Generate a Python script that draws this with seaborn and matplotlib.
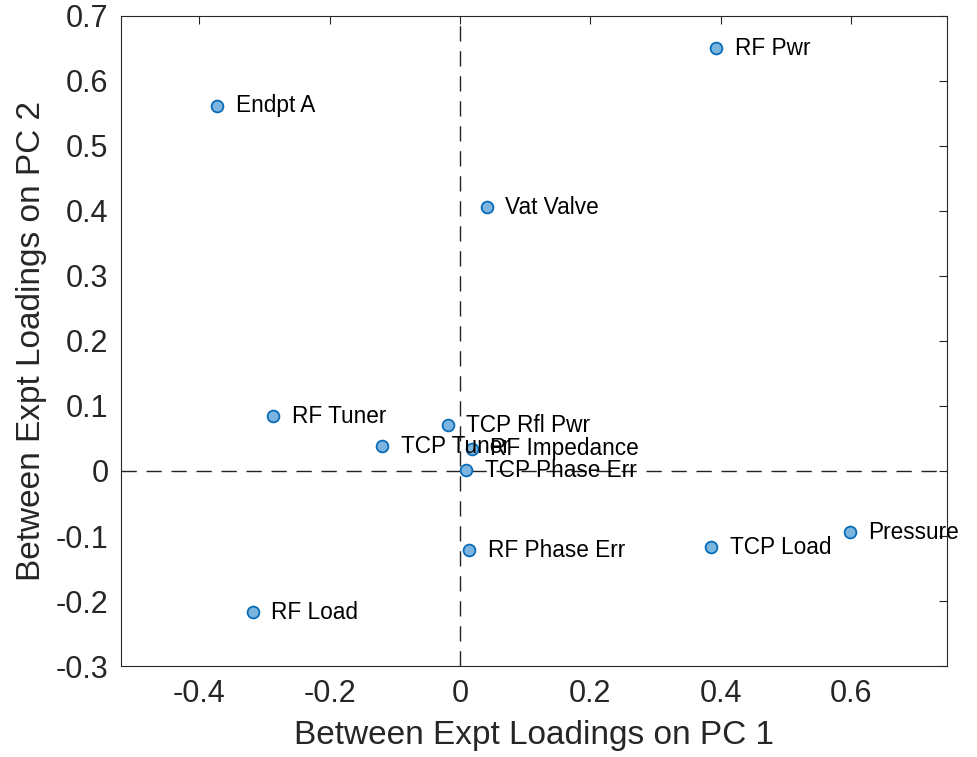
import matplotlib
matplotlib.use("Agg")
import matplotlib.pyplot as plt
import seaborn as sns
import pandas as pd

# Loadings of each process variable on the first two between-experiment PCs
variables = ["Endpt A", "RF Pwr", "Vat Valve", "RF Tuner", "TCP Rfl Pwr",
             "TCP Tuner", "RF Impedance", "TCP Phase Err", "RF Phase Err",
             "TCP Load", "Pressure", "RF Load"]
pc1 = [-0.372, 0.393, 0.041, -0.287, -0.019, -0.120, 0.018, 0.009, 0.014,
       0.385, 0.598, -0.318]
pc2 = [0.562, 0.650, 0.406, 0.084, 0.070, 0.038, 0.034, 0.001, -0.122,
       -0.117, -0.094, -0.217]

xticks = [-0.4, -0.2, 0, 0.2, 0.4, 0.6]
xticklabels = ["-0.4", "-0.2", "0", "0.2", "0.4", "0.6"]
yticks = [-0.3, -0.2, -0.1, 0, 0.1, 0.2, 0.3, 0.4, 0.5, 0.6, 0.7]
yticklabels = ["-0.3", "-0.2", "-0.1", "0", "0.1", "0.2", "0.3", "0.4",
               "0.5", "0.6", "0.7"]

df = pd.DataFrame({"variable": variables, "pc1": pc1, "pc2": pc2})

sns.set_style("white")
plt.rcParams["font.family"] = ["Liberation Sans", "DejaVu Sans"]

fig = plt.figure(figsize=(9.78, 7.57), dpi=100)
ax = fig.add_axes([0.1237, 0.1202, 0.8446, 0.8587])

ax.axvline(0, color="#222222", lw=1.0, ls=(0, (11, 7)), zorder=1)
ax.axhline(0, color="#222222", lw=1.0, ls=(0, (11, 7)), zorder=1)

sns.scatterplot(data=df, x="pc1", y="pc2", ax=ax, s=72,
                color="#7cb5e0", edgecolor="#0a6cb8", linewidth=1.3,
                zorder=3, legend=False)

for name, x, y in zip(df["variable"], df["pc1"], df["pc2"]):
    ax.annotate(name, (x, y), xytext=(13.5, 0), textcoords="offset points",
                ha="left", va="center", fontsize=16.3, color="black",
                zorder=4)

ax.set_xlim(-0.52, 0.747)
ax.set_ylim(-0.3, 0.7)
ax.set_xticks(xticks)
ax.set_xticklabels(xticklabels)
ax.set_yticks(yticks)
ax.set_yticklabels(yticklabels)

ax.set_xlabel("Between Expt Loadings on PC 1", fontsize=24, color="#262626",
              labelpad=8)
ax.set_ylabel("Between Expt Loadings on PC 2", fontsize=24, color="#262626",
              labelpad=6)

ax.tick_params(axis="both", which="both", direction="in", length=6,
               width=0.8, colors="#262626", labelsize=22, top=True,
               right=True, pad=9)
for side in ["left", "right", "top", "bottom"]:
    ax.spines[side].set_visible(True)
    ax.spines[side].set_color("#262626")
    ax.spines[side].set_linewidth(0.8)

fig.savefig("out.png", dpi=100)
